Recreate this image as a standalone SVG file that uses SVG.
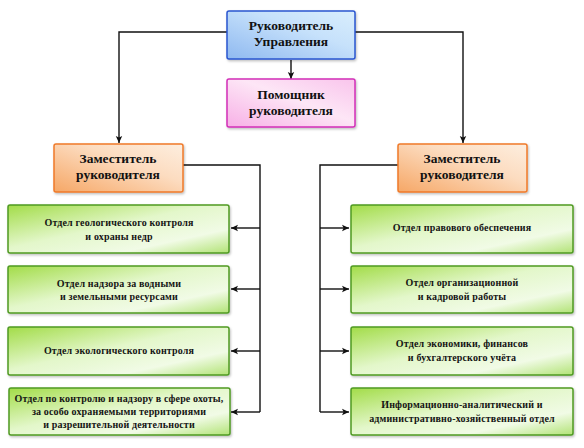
<svg xmlns="http://www.w3.org/2000/svg" width="584" height="448" viewBox="0 0 584 448">
<defs>
<linearGradient id="gBlue" x1="0" y1="1" x2="1" y2="0">
<stop offset="0" stop-color="#8fb9f0"/>
<stop offset="0.6" stop-color="#c6e1fb"/>
<stop offset="1" stop-color="#d9eefd"/>
</linearGradient>
<linearGradient id="gPink" x1="0" y1="1" x2="1" y2="0">
<stop offset="0" stop-color="#f7b0e6"/>
<stop offset="0.55" stop-color="#fde6f6"/>
<stop offset="1" stop-color="#f9c4ec"/>
</linearGradient>
<linearGradient id="gOrange" x1="0" y1="1" x2="1" y2="0">
<stop offset="0" stop-color="#f6a766"/>
<stop offset="0.6" stop-color="#fcdcc0"/>
<stop offset="1" stop-color="#fdeedf"/>
</linearGradient>
<linearGradient id="gGreen" x1="0" y1="0" x2="1" y2="1">
<stop offset="0" stop-color="#a2dc48"/>
<stop offset="0.45" stop-color="#e3f7ca"/>
<stop offset="0.75" stop-color="#f1fbe6"/>
<stop offset="1" stop-color="#b2e376"/>
</linearGradient>
<marker id="arr" markerWidth="8" markerHeight="8" refX="7" refY="4" orient="auto" markerUnits="userSpaceOnUse">
<path d="M0,0.8 L7,4 L0,7.2 L1.6,4 Z" fill="#111"/>
</marker>
<filter id="sh" x="-5%" y="-10%" width="112%" height="130%">
<feDropShadow dx="1" dy="1.5" stdDeviation="1" flood-color="#000" flood-opacity="0.25"/>
</filter>
</defs>
<style>
.box{stroke-width:1.5;filter:url(#sh)}
.blue{fill:url(#gBlue);stroke:#2a55d0}
.pink{fill:url(#gPink);stroke:#d22fb8}
.orange{fill:url(#gOrange);stroke:#f07a2a}
.green{fill:url(#gGreen);stroke:#4f9a22}
.big{font-family:"Liberation Serif","Times New Roman","DejaVu Serif",serif;font-weight:bold;font-size:13.5px;fill:#111;text-anchor:middle}
.small{font-family:"Liberation Serif","Times New Roman","DejaVu Serif",serif;font-weight:bold;font-size:10px;fill:#141414;text-anchor:middle;letter-spacing:0.15px}
.con{fill:none;stroke:#111;stroke-width:1.4}
</style>

<g id="connectors">
<path class="con" d="M228,32 H119 V143" marker-end="url(#arr)"/>
<path class="con" d="M355,32 H463 V143" marker-end="url(#arr)"/>
<path class="con" d="M291,60 V79" marker-end="url(#arr)"/>
<path class="con" d="M183,165 H260 V412"/>
<path class="con" d="M260,228 H231" marker-end="url(#arr)"/>
<path class="con" d="M260,289 H231" marker-end="url(#arr)"/>
<path class="con" d="M260,351 H231" marker-end="url(#arr)"/>
<path class="con" d="M260,412 H231" marker-end="url(#arr)"/>
<path class="con" d="M398,165 H320 V412"/>
<path class="con" d="M320,228 H349" marker-end="url(#arr)"/>
<path class="con" d="M320,289 H349" marker-end="url(#arr)"/>
<path class="con" d="M320,351 H349" marker-end="url(#arr)"/>
<path class="con" d="M320,412 H349" marker-end="url(#arr)"/>
</g>

<g id="head">
<rect class="box blue" x="227" y="11" width="128" height="48" rx="2"/>
<text class="big" x="291" y="30">Руководитель</text>
<text class="big" x="291" y="46">Управления</text>
</g>

<g id="assistant">
<rect class="box pink" x="227" y="79" width="128" height="48" rx="2"/>
<text class="big" x="291" y="99">Помощник</text>
<text class="big" x="291" y="115">руководителя</text>
</g>

<g id="deputy-left">
<rect class="box orange" x="54" y="144" width="129" height="48" rx="2"/>
<text class="big" x="118" y="163">Заместитель</text>
<text class="big" x="118" y="179">руководителя</text>
</g>

<g id="deputy-right">
<rect class="box orange" x="398" y="144" width="129" height="48" rx="2"/>
<text class="big" x="462" y="163">Заместитель</text>
<text class="big" x="462" y="179">руководителя</text>
</g>

<g id="dept-l1">
<rect class="box green" x="8" y="205" width="221" height="48" rx="2"/>
<text class="small" x="119" y="226">Отдел геологического контроля</text>
<text class="small" x="119" y="240">и охраны недр</text>
</g>

<g id="dept-l2">
<rect class="box green" x="8" y="266" width="221" height="47" rx="2"/>
<text class="small" x="119" y="287">Отдел надзора за водными</text>
<text class="small" x="119" y="300">и земельными ресурсами</text>
</g>

<g id="dept-l3">
<rect class="box green" x="8" y="327" width="221" height="48" rx="2"/>
<text class="small" x="119" y="354">Отдел экологического контроля</text>
</g>

<g id="dept-l4">
<rect class="box green" x="9" y="388" width="221" height="47" rx="2"/>
<text class="small" x="119" y="402">Отдел по контролю и надзору в сфере охоты,</text>
<text class="small" x="119" y="415">за особо охраняемыми территориями</text>
<text class="small" x="119" y="428">и разрешительной деятельности</text>
</g>

<g id="dept-r1">
<rect class="box green" x="351" y="205" width="222" height="48" rx="2"/>
<text class="small" x="462" y="231">Отдел правового обеспечения</text>
</g>

<g id="dept-r2">
<rect class="box green" x="351" y="266" width="222" height="47" rx="2"/>
<text class="small" x="462" y="286">Отдел организационной</text>
<text class="small" x="462" y="300">и кадровой работы</text>
</g>

<g id="dept-r3">
<rect class="box green" x="351" y="327" width="222" height="48" rx="2"/>
<text class="small" x="462" y="347">Отдел экономики, финансов</text>
<text class="small" x="462" y="361">и бухгалтерского учёта</text>
</g>

<g id="dept-r4">
<rect class="box green" x="351" y="388" width="222" height="47" rx="2"/>
<text class="small" x="462" y="408">Информационно-аналитический и</text>
<text class="small" x="462" y="422">административно-хозяйственный отдел</text>
</g>
</svg>
